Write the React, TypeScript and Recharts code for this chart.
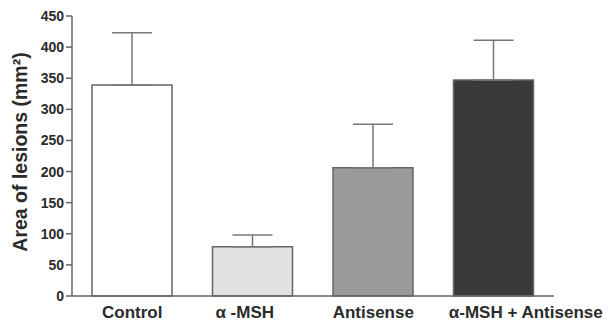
import { BarChart, Bar, Cell, ErrorBar, XAxis, YAxis } from 'recharts';

const groups = ['Control', 'α -MSH', 'Antisense', 'α-MSH + Antisense'];
const lesionArea = [339, 79, 206, 347];
const lesionSem = [84, 19, 70, 64];
const yTicks = [0, 50, 100, 150, 200, 250, 300, 350, 400, 450];

const FILLS = ['#ffffff', '#e2e2e2', '#9a9a9a', '#3a3a3a'];
const LINE = '#666666';
const TEXT = '#2b2b2b';
const FONT = '"Liberation Sans", Arial, Helvetica, sans-serif';
// nudges for the category labels as they sit in the original figure
const LABEL_DX = [0, -8, 0, 32];

const chartData = groups.map((name, i) => ({
  name,
  value: lesionArea[i],
  err: [0, lesionSem[i]],
}));

const CategoryTick = (props: any) => {
  const { x, y, payload, index } = props;
  return (
    <text
      x={x + (LABEL_DX[index] ?? 0)}
      y={y}
      dy={14}
      textAnchor="middle"
      fontFamily={FONT}
      fontWeight="bold"
      fontSize={17}
      fill={TEXT}
    >
      {payload.value}
    </text>
  );
};

const AxisTitle = () => (
  <text
    x={20}
    y={152}
    transform="rotate(-90 20 152)"
    textAnchor="middle"
    dominantBaseline="central"
    fontFamily={FONT}
    fontWeight="bold"
    fontSize={19.5}
    fill={TEXT}
  >
    Area of lesions (mm²)
  </text>
);

export default function App() {
  return (
    <div style={{ position: 'absolute', left: 0, top: 0, background: '#fff' }}>
      <BarChart
        width={608}
        height={322}
        data={chartData}
        margin={{ top: 16, right: 54, bottom: 0, left: 0 }}
      >
        <XAxis
          dataKey="name"
          height={26}
          tickLine={false}
          axisLine={{ stroke: LINE, strokeWidth: 1.5 }}
          tick={<CategoryTick />}
          interval={0}
        />
        <YAxis
          width={72}
          domain={[0, 450]}
          ticks={yTicks}
          interval={0}
          tickSize={6}
          tickLine={{ stroke: LINE, strokeWidth: 1.5 }}
          axisLine={{ stroke: LINE, strokeWidth: 1.5 }}
          tick={{ fontFamily: FONT, fontSize: 14, fontWeight: 'bold', fill: TEXT }}
          label={{ content: <AxisTitle /> }}
        />
        <Bar dataKey="value" barSize={80} stroke={LINE} strokeWidth={1.5} isAnimationActive={false}>
          {chartData.map((d, i) => (
            <Cell key={d.name} fill={FILLS[i]} />
          ))}
          <ErrorBar dataKey="err" direction="y" width={20} stroke="#777777" strokeWidth={1.5} />
        </Bar>
      </BarChart>
    </div>
  );
}
